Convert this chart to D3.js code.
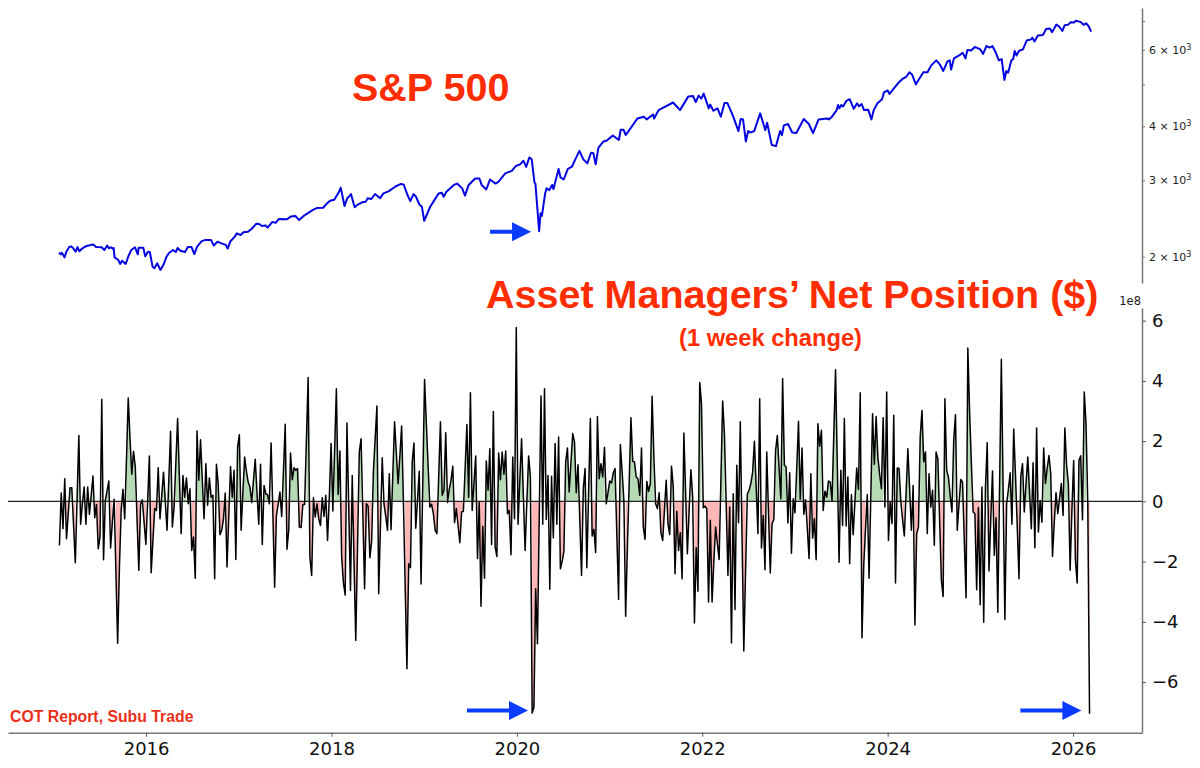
<!DOCTYPE html>
<html>
<head>
<meta charset="utf-8">
<script src="https://cdn.jsdelivr.net/npm/d3@7"></script>
<style>
  html, body { margin: 0; padding: 0; background: #fff; }
  svg { display: block; }
</style>
</head>
<body>
<div id="chart"></div>
<script>
// S&P 500
let spYears = [
  2015.06,2015.08,2015.09,2015.10,2015.12,2015.14,2015.17,2015.19,2015.21,2015.24,2015.26,2015.28,2015.30,2015.33,2015.36,2015.38,2015.41,2015.43,2015.46,2015.52,2015.55,2015.58,2015.60,2015.62,2015.64,2015.65,2015.66,2015.70,2015.72,2015.74,2015.78,2015.81,2015.84,2015.88,2015.91,2015.92,2015.97,2015.99,
  2016.02,2016.04,2016.07,2016.09,2016.12,2016.155,2016.19,2016.22,2016.25,2016.29,2016.32,2016.34,2016.37,2016.42,2016.45,2016.49,2016.52,2016.55,2016.60,2016.64,2016.70,2016.73,2016.77,2016.82,2016.86,2016.88,2016.91,2016.95,2016.98,
  2017.02,2017.05,2017.10,2017.14,2017.19,2017.22,2017.25,2017.29,2017.31,2017.36,2017.40,2017.43,2017.52,2017.56,2017.61,2017.65,2017.70,2017.80,2017.84,2017.91,2017.95,2017.985,
  2018.03,2018.08,2018.10,2018.14,2018.17,2018.19,2018.21,2018.25,2018.28,2018.33,2018.37,2018.39,2018.43,2018.47,2018.525,2018.56,2018.615,2018.69,2018.75,2018.78,2018.82,2018.85,2018.885,2018.91,2018.95,2018.975,2019.0,
  2019.065,2019.10,2019.155,2019.19,2019.21,2019.24,2019.32,2019.355,2019.41,2019.44,2019.48,2019.55,2019.595,2019.62,2019.67,2019.71,2019.77,2019.80,2019.875,2019.945,2019.99,
  2020.035,2020.07,2020.10,2020.135,2020.16,2020.19,2020.20,2020.24,2020.255,2020.27,2020.305,2020.32,2020.35,2020.38,2020.395,2020.45,2020.47,2020.505,2020.55,2020.595,2020.63,2020.675,2020.715,2020.76,2020.80,2020.825,2020.85,2020.88,2020.935,2020.97,
  2021.035,2021.10,2021.12,2021.15,2021.175,2021.22,2021.30,2021.37,2021.40,2021.47,2021.48,2021.53,2021.565,2021.685,2021.71,2021.76,2021.85,2021.90,2021.93,2021.96,2021.99,
  2022.015,2022.07,2022.085,2022.12,2022.165,2022.20,2022.24,2022.27,2022.32,2022.345,2022.39,2022.415,2022.44,2022.47,2022.495,2022.52,2022.56,2022.625,2022.66,2022.68,2022.70,2022.75,2022.795,2022.84,2022.86,2022.88,2022.925,2022.97,
  2023.015,2023.095,2023.15,2023.195,2023.255,2023.345,2023.365,2023.40,2023.45,2023.465,2023.48,2023.50,2023.52,2023.555,2023.59,2023.635,2023.67,2023.69,2023.72,2023.745,2023.79,2023.825,2023.85,2023.89,2023.94,2023.96,
  2024.0,2024.02,2024.07,2024.12,2024.16,2024.20,2024.235,2024.265,2024.305,2024.34,2024.385,2024.43,2024.47,2024.525,2024.565,2024.60,2024.645,2024.67,2024.685,2024.715,2024.78,2024.81,2024.84,2024.86,2024.90,2024.94,
  2025.0,2025.03,2025.065,2025.10,2025.13,2025.165,2025.20,2025.23,2025.26,2025.28,2025.30,2025.335,2025.355,2025.37,2025.39,2025.415,2025.46,2025.50,2025.55,2025.56,2025.585,2025.62,2025.675,2025.71,2025.75,2025.775,2025.82,2025.85,2025.885,2025.91,2025.945,2025.975,
  2026.01,2026.03,2026.08,2026.115,2026.14,2026.17,2026.195
];
let spValues = [
  2043,2025,2043,2028,1993,2054,2105,2113,2098,2054,2105,2058,2079,2103,2118,2122,2130,2133,2105,2103,2072,2122,2091,2103,2087,2095,1993,1965,1925,1958,1925,2007,2072,2103,2025,2098,2098,2004,
  2054,2050,1896,1882,1932,1864,1921,2000,2043,2072,2050,2095,2065,2050,2105,2105,2028,2109,2172,2187,2187,2122,2166,2144,2130,2087,2172,2216,2264,
  2244,2278,2285,2321,2384,2380,2355,2362,2333,2404,2396,2444,2440,2475,2484,2430,2484,2566,2590,2594,2653,2693,
  2708,2820,2887,2618,2730,2754,2791,2600,2635,2670,2680,2730,2718,2791,2730,2800,2830,2905,2945,2931,2776,2688,2790,2754,2635,2610,2421,
  2608,2680,2800,2810,2750,2825,2929,2950,2876,2768,2929,3032,3032,2929,2860,3015,2950,2977,3115,3157,3240,
  3268,3332,3224,3390,3356,2965,2950,2290,2520,2485,2800,2876,2850,2929,2865,3190,3050,3015,3190,3230,3356,3510,3360,3285,3475,3465,3268,3570,3690,3710,
  3810,3720,3927,3927,3820,3940,4170,4210,4150,4260,4170,4360,4400,4540,4480,4360,4690,4700,4550,4710,4635,
  4760,4400,4490,4345,4400,4210,4530,4530,4285,4150,3900,4160,4150,3690,3900,3870,3900,4285,4050,3920,4075,3620,3600,3900,3820,4020,4050,3870,
  3860,4160,4050,3860,4150,4170,4150,4210,4360,4480,4400,4480,4445,4580,4620,4390,4520,4450,4500,4360,4370,4150,4360,4520,4620,4790,
  4840,4750,4900,5050,5145,5205,5330,5260,5000,5145,5330,5330,5530,5680,5550,5370,5650,5680,5410,5740,5850,5910,5740,6000,5985,6100,
  6020,5880,6130,6080,6130,5930,5680,5720,5120,5370,5320,5680,5720,5970,5830,5970,6020,6310,6350,6410,6280,6480,6500,6710,6730,6600,6870,6800,6640,6850,6860,6960,
  6950,7010,6970,6860,6920,6800,6620
];

// weekly change in net position, units of 1e8, left to right across the panel
let netChangeA = [
  -1.46,.28,-.91,.75,-1.24,-.4,.45,.45,-.8,-2.04,.1,2.19,-.76,-.1,.48,-.76,.48,-.43,.2,.84,-.54,-.1,-1.57,-1.18,3.39,-1.94,.03,.35,.68,-1.55,-.7,.07,-2.3,-4.71,-2.2,-.3,.4,-.58,1.4,3.43,2.1,.9,1.66,1.14,-.6,-2.29,-.1,.05,-.7,-1.43,0,1.51,-2.37,-1.3,-.24,-.3,1.12,-.58,.2,.97,0,-.96,.7,2.33,-.85,-.19,1.3,2.75,.8,-1.07,.86,.14,.78,-.08,.42,-1.63,-1.18,-2.55,2.34,.7,2.05,.7,-.58,1.25,-.13,.78,.14,.2,-2.57,1.23,.59,-1.11,-.96,-.58,.28,-2.18,-.5,1.16,.14,1.03,-1.93,1.8,2.21,-.96,.3,1.47,1.0,.64,.48,-.04,.7,1.4,.3,-.76,1.23,-1.43,.53,.25,.22,-.08,1.94,-.4,-2.85,-.47,-.1,.31,-.5,1.0,2.56,-1.59,-.96,1.61,.72,1.12,1.03,1.09
];
let netChangeB = [
  -.85,-.87,-.1,-.1,2.0,4.11,-1.85,-2.46,.12,-.52,-.08,-.58,-.8,.12,-.5,.2,-1.3,.14,1.92,-.32,1.7,3.74,.23,1.67,-1.85,-2.7,-3.11,2.6,-.2,-2.96,.86,-2.0,-4.62,-1.5,1.64,2.08,-.4,-2.9,-.08,-.16,-1.87,-1.32,1.0,2.1,3.17,-3.07,-.8,1.45,-.08,-.5,-.96,.92,-.94,.9,2.64,1.6,.59,1.5,2.5,.03,-2.8,-5.56,-2.07,-2.2,1.31,1.94,-.89,.05,1.0,-2.74,.65,4.05,2.6,1.2,-.19,-.1,-.41,-.96,-1.07,.8,2.64,.2,.37,2.28,-.04,.4,.7,1.17,-.71,-.24,-.8,-1.37,-.35,-.33,1.1,2.55,.14,3.61,-.3,.6,1.51,-1.9,-.04,-3.48,-.83,-2.55,1.34,.37,1.75,-1.43,2.98,-1.5,-1.83,1.61,.72,1.64,.9,1.67,-.41,-.3,-1.77,1.47,-.58,5.77,-.76,.7,2.08,.2,-1.63,0,1.51,.81,-7.03,-6.83,-2.9,-4.73,-.6,3.5,-.76,3.74,-.6,.86,-2.92,.83,-1.21,1.92,-.76,2.14,-2.24,-2.0,-1.65,1.31,1.77,.31,1.3,2.25,1.97,.29,1.22,-.6,-2.46,.42,1.09,-2.2,.3,2.75,-1.15,-.93,-1.7,2.82
];
let netChangeC = [
  .75,1.25,.81,1.8,-.08,.3,.68,.61,.95,1.09,-1.1,-3.26,1.89,1.0,.03,-3.81,-1.5,.6,2.78,1.33,1.31,.81,.75,.2,1.77,-.85,-1.26,.66,.33,.59,3.49,1.5,-.08,-.24,.29,-1.04,-1.3,-.3,.7,-.74,-1.1,1.17,.48,-2.4,-.33,-1.63,-1.04,-2.57,2.27,.3,-1.74,-.3,1.05,.14,-4.04,-1.54,-2.98,3.95,3.24,-.21,-.16,-.24,-3.34,-.63,-3.34,-2.0,-.85,-1.4,-1.93,.7,3.33,2.25,-.1,-2.46,-.19,-4.7,.25,-3.59,1.2,-.71,2.64,-1.2,-4.97,-2.3,.25,.37,.6,.97,2.0,.5,-1.07,3.41,-1.55,-.47,-2.27,1.64,-.4,-2.38,-.74,-.61,1.69,2.19,1.1,.09,4.08,1.2,1.14,-.72,.95,-1.72,.09,-.38,1.1,2.66,.07,1.77,-.43,.05,-.9,-1.9,.92,-1.22,-.58,-1.94,2.58,1.83,2.36,-.3,.34,.14,.68,.64,.03,2.2,4.37,1.2,-2.02,1.03,-.8,2.75,-.82,.81,-2.07,.23,-1.11,0,1.11,.4,3.61,-4.53,-2.1,-.9,.23,-2.55,.2,2.91,1.23,2.82,1.47,.9,.42,2.78,-.19,3.63,-1.3,-.03,-.74,2.86,-2.71,1.11
];
let netChangeD = [
  1.09,0,-.6,-1.15,.3,1.75,.4,-.96,.53,-4.1,-1.07,-.85,2.14,3.02,1.31,1.64,-1.07,.92,-.19,.37,-1.46,1.64,1.42,-.6,-2.62,-3.16,3.41,1.03,.81,.2,-.35,2.03,2.88,-.96,-.1,.73,.64,-1.3,-3.2,5.09,3.0,1.27,-.35,-.41,-2.93,-.2,-3.43,.48,-4.01,.48,1.95,-2.31,-.6,1.01,-1.79,-.54,-3.68,.5,4.72,.4,-3.92,-.08,.4,.95,-.76,2.4,.9,-.8,-2.57,.81,1.25,-.35,.6,1.47,.3,-.91,1.28,-1.54,2.44,-1.02,.03,-.69,1.77,.59,1.1,1.52,.92,-1.83,-.7,.29,-.41,.1,.59,-.47,2.44,1.2,.59,-2.29,-.3,1.36,-1.96,-2.71,1.36,1.51,-.61,3.63,2.58,-.05,-7.05
];

let netFirstYear = 2015.065, netLastYear = 2026.178;
let yearTicks = [2016, 2018, 2020, 2022, 2024, 2026];
let netTicks = [-6, -4, -2, 0, 2, 4, 6];
let spTicksLabelled = [2000, 3000, 4000, 6000];
let spTicksMinor = [5000, 7000];

let width = 1200, height = 768;
let redText = "#ff2d00";
let arrowBlue = "#0a3cff";

let svg = d3.select("#chart").append("svg")
    .attr("width", width)
    .attr("height", height)
    .attr("viewBox", "0 0 " + width + " " + height);

let x = d3.scaleLinear().domain([2014.51, 2026.744]).range([8, 1142]);
let ySp = d3.scaleLog().domain([1739, 7503]).range([283, 8]);
let yNet = d3.scaleLinear().domain([-7.68, 6.42]).range([732.7, 308]);

// top panel
svg.append("path")
    .datum(spValues)
    .attr("fill", "none")
    .attr("stroke", "#0505e0")
    .attr("stroke-width", 2)
    .attr("stroke-linejoin", "round")
    .attr("d", d3.line()
        .x((d, i) => x(spYears[i]))
        .y(d => ySp(d)));

let spAxis = svg.append("g")
    .attr("transform", "translate(1142,0)")
    .call(d3.axisRight(ySp)
        .tickValues(spTicksLabelled.concat(spTicksMinor))
        .tickSize(3)
        .tickSizeOuter(0)
        .tickPadding(4)
        .tickFormat(""));
spAxis.select(".domain").attr("stroke", "#777").attr("stroke-width", 1.5);
spAxis.selectAll(".tick line").attr("stroke", "#777");
spAxis.selectAll(".tick text")
    .attr("font-family", "'DejaVu Sans'")
    .attr("font-size", 11)
    .attr("fill", "#222")
    .each(function(d) {
        if (spTicksLabelled.indexOf(d) < 0) return;
        let t = d3.select(this);
        t.text((d / 1000) + " \u00d7 10");
        t.append("tspan").attr("dy", -4).attr("font-size", 8).text("3");
    });

// bottom panel, green above zero and red below
let netChange = netChangeA.concat(netChangeB, netChangeC, netChangeD);
let netYear = d3.scaleLinear().domain([0, netChange.length - 1]).range([netFirstYear, netLastYear]);

// no fill for a point that is alone on its side of zero, runs of two or more get one
let netArea = d3.area()
    .x((d, i) => x(netYear(i)))
    .y0(yNet(0))
    .y1(d => yNet(d));

svg.append("path").datum(netChange)
    .attr("fill", "#b5dab5")
    .attr("d", netArea.defined(d => d >= 0));
svg.append("path").datum(netChange)
    .attr("fill", "#ffb6b6")
    .attr("d", netArea.defined(d => d < 0));

svg.append("line")
    .attr("x1", x.range()[0]).attr("x2", x.range()[1])
    .attr("y1", yNet(0)).attr("y2", yNet(0))
    .attr("stroke", "#222")
    .attr("stroke-width", 1.3);

svg.append("path")
    .datum(netChange)
    .attr("fill", "none")
    .attr("stroke", "#000")
    .attr("stroke-width", 1.5)
    .attr("stroke-linejoin", "round")
    .attr("d", d3.line()
        .x((d, i) => x(netYear(i)))
        .y(d => yNet(d)));

let netAxis = svg.append("g")
    .attr("transform", "translate(1142,0)")
    .call(d3.axisRight(yNet).tickValues(netTicks).tickSize(4).tickSizeOuter(0).tickPadding(6));
let yearAxis = svg.append("g")
    .attr("transform", "translate(0," + yNet(-7.68) + ")")
    .call(d3.axisBottom(x).tickValues(yearTicks).tickSize(4).tickSizeOuter(0).tickPadding(6).tickFormat(d3.format("d")));

[netAxis, yearAxis].forEach(function(a) {
    a.select(".domain").attr("stroke", "#777").attr("stroke-width", 1.5);
    a.selectAll(".tick line").attr("stroke", "#555");
    a.selectAll(".tick text")
        .attr("font-family", "'DejaVu Sans'")
        .attr("font-size", 18)
        .attr("fill", "#111");
});

svg.append("text")
    .attr("x", 1141).attr("y", 305)
    .attr("text-anchor", "end")
    .attr("font-family", "'DejaVu Sans'")
    .attr("font-size", 11.5)
    .attr("fill", "#222")
    .text("1e8");

// titles
function label(txt, lx, ly, size, color) {
    svg.append("text")
        .attr("x", lx).attr("y", ly)
        .attr("font-family", "'Liberation Sans'")
        .attr("font-weight", "bold")
        .attr("font-size", size)
        .attr("fill", color)
        .text(txt);
}
label("S&P 500", 352, 101, 39.5, redText);
label("Asset Managers\u2019 Net Position ($)", 486, 308, 39.5, redText);
label("(1 week change)", 679, 346, 23.7, redText);
label("COT Report, Subu Trade", 10, 722, 15.8, "#e8301a");

// blue arrows, given as tip position in data units and length in pixels
function arrow(tipX, tipY, len) {
    let head = 19;
    svg.append("path")
        .attr("fill", arrowBlue)
        .attr("d", "M" + (tipX - len) + "," + (tipY - 2) +
            "L" + (tipX - head) + "," + (tipY - 2) +
            "L" + (tipX - head) + "," + (tipY - 9.5) +
            "L" + tipX + "," + tipY +
            "L" + (tipX - head) + "," + (tipY + 9.5) +
            "L" + (tipX - head) + "," + (tipY + 2) +
            "L" + (tipX - len) + "," + (tipY + 2) + "Z");
}
arrow(x(2020.153), ySp(2284), 41);
arrow(x(2020.12), yNet(-6.94), 61);
arrow(x(2026.09), yNet(-6.94), 61);
</script>
</body>
</html>
